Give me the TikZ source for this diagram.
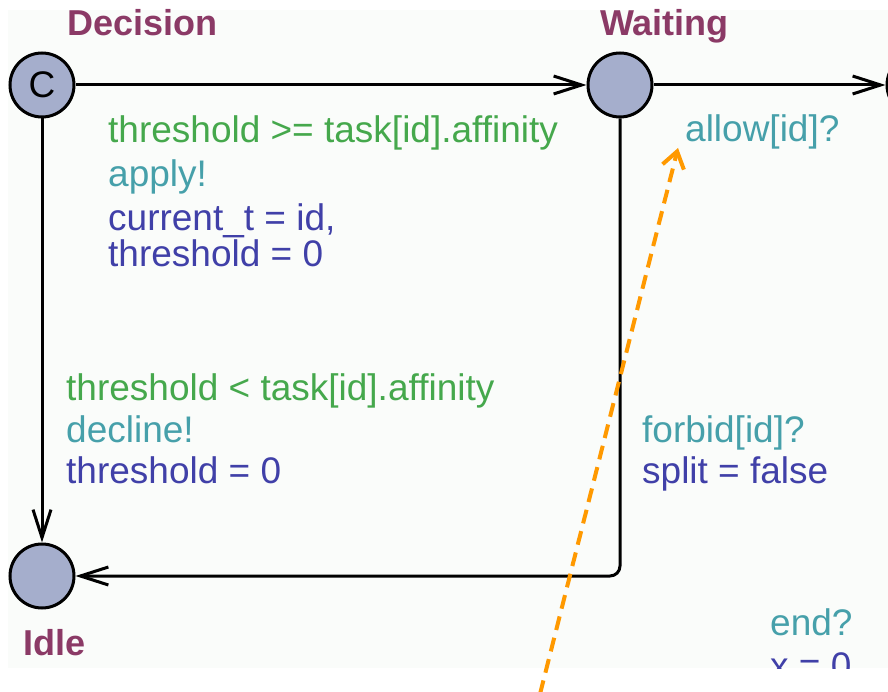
\documentclass[tikz,border=0pt]{standalone}
\usepackage{fontspec}
\setmainfont{Liberation Sans}
\usepackage{xcolor}
\definecolor{locname}{HTML}{8B3A66}
\definecolor{guardcol}{HTML}{45A84C}
\definecolor{synccol}{HTML}{46A0AA}
\definecolor{updcol}{HTML}{4040A8}
\definecolor{locfill}{HTML}{A5AECC}
\definecolor{canvasbg}{HTML}{FAFCFA}
\definecolor{noteorange}{HTML}{FF9900}
\usetikzlibrary{arrows.meta,positioning}

\begin{document}
\begin{tikzpicture}[
  x=1pt, y=-1pt,
  loc/.style={draw, circle, line width=3pt, fill=locfill, minimum size=64pt,
              inner sep=0pt, font=\fontsize{37}{40}\selectfont},
  lname/.style={font=\fontsize{36}{40}\selectfont\bfseries, text=locname,
                inner sep=0pt, anchor=base west},
  lbl/.style={font=\fontsize{37}{40}\selectfont, inner sep=0pt, anchor=base west},
  guard/.style={lbl, text=guardcol},
  sync/.style={lbl, text=synccol},
  upd/.style={lbl, text=updcol},
  edge/.style={line width=3pt, -{Straight Barb[length=28pt,width=18pt]}},
  note/.style={draw=noteorange, line width=4pt, dash pattern=on 14pt off 8pt,
               -{Straight Barb[length=16pt,width=22pt]}}
]
  \useasboundingbox (0,0) rectangle (888,692);
  \fill[canvasbg] (8,10) rectangle (888,668);

  % locations
  \node[loc] (dec)  at (42,85)  {C};
  \node[loc] (wait) at (620,85) {};
  \node[loc] (idle) at (42,576) {};
  \node[loc] (next) at (919,85) {};

  \node[lname] (decname)  at (67,36)  {Decision};
  \node[lname] (waitname) at (600,36) {Waiting};
  \node[lname] (idlename) at (23,655) {Idle};

  % transitions
  \draw[edge] (dec) -- (wait);
  \draw[edge] (wait) -- (next);
  \draw[edge] (dec) -- (idle);
  \draw[edge, rounded corners=10pt] (wait) |- (idle);

  % labels
  \node[guard] (g1) at (108,143) {threshold >= task[id].affinity};
  \node[sync]  (s1) at (108,187) {apply!};
  \node[upd]   (u1) at (108,231) {current\_t = id,};
  \node[upd]   (u2) at (108,267) {threshold = 0};

  \node[guard] (g2) at (66,400) {threshold < task[id].affinity};
  \node[sync]  (s2) at (66,442) {decline!};
  \node[upd]   (u3) at (66,483) {threshold = 0};

  \node[sync]  (s3) at (642,442) {forbid[id]?};
  \node[upd]   (u4) at (642,483) {split = false};

  \node[sync]  (s4) at (685,142) {allow[id]?};

  \begin{scope}
    \clip (8,10) rectangle (888,668);
    \node[sync] (s5) at (770,635) {end?};
    \node[upd]  (u5) at (770,678) {x = 0};
  \end{scope}

  % note pointer
  \coordinate (tail) at (540,694);
  \coordinate (tip)  at (678,148);
  \draw[note] (tail) -- (tip);
\end{tikzpicture}
\end{document}
